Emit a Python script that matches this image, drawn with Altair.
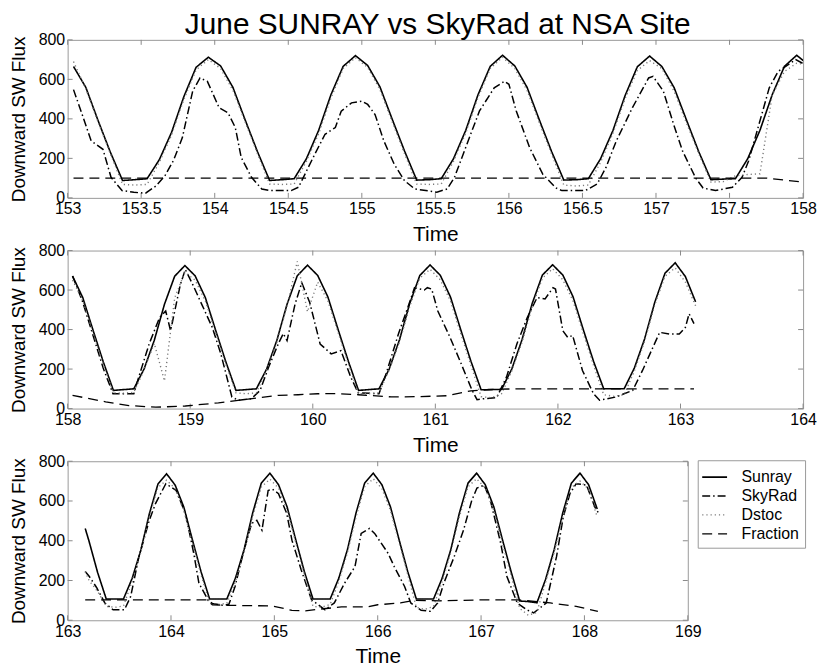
import altair as alt
import pandas as pd

SERIES = ["Sunray", "SkyRad", "Dstoc", "Fraction"]
COLORS = ["#000000", "#000000", "#7a7a7a", "#000000"]
DASHES = [[1, 0], [8, 3, 1.5, 3], [1.2, 3], [10, 6]]
WIDTHS = [1.6, 1.3, 1.3, 1.6]
YTICKS = [0, 200, 400, 600, 800]
XTICKS1 = [153, 153.5, 154, 154.5, 155, 155.5, 156, 156.5, 157, 157.5, 158]
XTICKS2 = [158, 159, 160, 161, 162, 163, 164]
XTICKS3 = [163, 164, 165, 166, 167, 168, 169]

# ---- Panel 1 (2-hourly samples from 153.04) ----
p1_start = 153.04
p1_sunray = [665, 560, 392, 232, 88, 92, 97, 193, 332, 512, 661, 712,
             668, 560, 395, 235, 88, 92, 97, 198, 342, 522, 666, 720,
             670, 562, 398, 238, 90, 92, 97, 198, 342, 522, 666, 722,
             668, 560, 395, 235, 90, 92, 97, 198, 340, 518, 664, 718,
             665, 558, 395, 235, 92, 95, 97, 198, 342, 522, 666, 722,
             672]
p1_dstoc = [690, 552, 385, 225, 68, 65, 68, 180, 318, 498, 648, 700,
            655, 545, 385, 225, 70, 68, 70, 185, 325, 505, 655, 710,
            660, 548, 385, 225, 70, 68, 70, 185, 328, 508, 655, 712,
            655, 545, 380, 222, 65, 60, 65, 180, 325, 502, 645, 695,
            655, 540, 380, 225, 80, 82, 112, 118, 122, 520, 640, 682,
            672]
p1_skyrad = [(153.04, 548), (153.10, 420), (153.16, 288), (153.24, 246), (153.295, 104),
             (153.37, 37), (153.45, 28), (153.53, 24), (153.6, 60), (153.66, 110),
             (153.72, 190), (153.78, 305), (153.81, 406), (153.85, 540), (153.9, 607),
             (153.95, 590), (154.03, 456), (154.09, 431), (154.14, 356), (154.18, 205),
             (154.25, 104), (154.32, 45), (154.38, 37), (154.52, 37), (154.57, 54),
             (154.68, 221), (154.75, 322), (154.82, 356), (154.86, 439), (154.93, 481),
             (155.0, 490), (155.04, 473), (155.09, 422), (155.15, 288), (155.22, 171),
             (155.29, 87), (155.36, 45), (155.51, 29), (155.58, 45), (155.63, 104),
             (155.74, 322), (155.8, 440), (155.9, 557), (155.97, 590), (156.0, 575),
             (156.05, 440), (156.14, 256), (156.23, 120), (156.32, 50), (156.36, 37),
             (156.52, 37), (156.6, 70), (156.66, 154), (156.73, 288), (156.84, 457),
             (156.95, 607), (156.98, 615), (157.05, 540), (157.12, 372), (157.18, 238),
             (157.27, 100), (157.32, 50), (157.405, 37), (157.52, 54), (157.585, 104),
             (157.63, 188), (157.7, 372), (157.77, 557), (157.83, 640), (157.95, 700),
             (158.0, 680)]
p1_fraction = [(153.04, 100), (157.75, 100), (158.0, 80)]

# ---- Panel 2 (2-hourly samples from 158.04) ----
p2_start = 158.04
p2_sunray = [671, 562, 398, 238, 92, 96, 100, 200, 345, 528, 670, 724,
             672, 562, 398, 238, 92, 96, 100, 200, 345, 528, 672, 726,
             674, 565, 400, 240, 92, 96, 100, 200, 347, 530, 674, 727,
             675, 565, 400, 240, 95, 96, 97, 200, 348, 532, 676, 728,
             676, 566, 400, 240, 100, 100, 100, 205, 352, 538, 685, 738,
             668, 540]
p2_dstoc = [650, 548, 385, 225, 80, 78, 82, 195, 330, 140, 560, 690,
            650, 545, 385, 225, 80, 75, 80, 195, 335, 520, 745, 490,
            640, 545, 385, 225, 75, 75, 80, 195, 335, 515, 660, 705,
            652, 545, 380, 220, 60, 55, 75, 190, 335, 515, 660, 708,
            652, 545, 380, 220, 70, 62, 70, 190, 340, 525, 670, 712,
            640, 520]
p2_skyrad = [(158.04, 671), (158.12, 545), (158.2, 385), (158.29, 205), (158.37, 75),
             (158.54, 75), (158.58, 159), (158.665, 327), (158.75, 461), (158.8, 494),
             (158.84, 394), (158.92, 629), (158.96, 704), (159.02, 629), (159.1, 520),
             (159.18, 411), (159.25, 277), (159.34, 59), (159.39, 42), (159.5, 50),
             (159.57, 92), (159.64, 210), (159.72, 330), (159.76, 380), (159.79, 344),
             (159.855, 528), (159.91, 637), (159.975, 537), (160.06, 327), (160.15, 277),
             (160.23, 293), (160.31, 159), (160.37, 80), (160.54, 75), (160.6, 180),
             (160.7, 380), (160.78, 520), (160.83, 612), (160.91, 600), (160.935, 612),
             (160.97, 605), (161.02, 494), (161.12, 360), (161.2, 243), (161.3, 92),
             (161.34, 45), (161.395, 50), (161.5, 55), (161.58, 159), (161.665, 327),
             (161.75, 461), (161.83, 562), (161.895, 555), (161.96, 612), (161.98, 605),
             (162.04, 394), (162.08, 360), (162.12, 370), (162.2, 193), (162.29, 75),
             (162.34, 42), (162.475, 59), (162.61, 92), (162.69, 193), (162.83, 386),
             (162.91, 377), (162.99, 377), (163.04, 411), (163.07, 480), (163.11, 430)]
p2_fraction = [(158.04, 67), (158.31, 34), (158.5, 15), (158.72, 7), (158.96, 13),
               (159.23, 29), (159.39, 42), (159.56, 55), (159.72, 67), (159.88, 70),
               (160.04, 75), (160.2, 76), (160.37, 70), (160.64, 59), (160.83, 60),
               (161.1, 65), (161.29, 90), (161.5, 98), (161.7, 100), (163.11, 100)]

# ---- Panel 3 (first sample at 163.17, then 2-hourly from 163.207) ----
p3_first = (163.17, 462, 245)
p3_start = 163.207
p3_sunray = [398, 240, 107, 107, 107, 210, 350, 535, 685, 737,
             680, 570, 405, 245, 107, 107, 107, 212, 355, 540, 690, 740,
             682, 570, 405, 245, 107, 107, 107, 212, 355, 540, 690, 740,
             682, 570, 405, 245, 107, 107, 107, 212, 355, 540, 690, 740,
             682, 570, 405, 245, 97, 94, 88, 205, 355, 540, 690, 740,
             682, 560]
p3_dstoc = [200, 145, 70, 65, 72, 195, 340, 520, 668, 705,
            662, 552, 390, 230, 85, 80, 85, 195, 340, 520, 670, 710,
            665, 552, 390, 230, 70, 65, 80, 195, 340, 520, 672, 712,
            662, 552, 390, 230, 65, 55, 70, 195, 340, 520, 672, 712,
            665, 552, 385, 225, 60, 25, 40, 190, 340, 520, 668, 700,
            660, 520]
p3_skyrad = [(163.17, 245), (163.21, 220), (163.28, 165), (163.36, 87), (163.44, 53),
             (163.55, 53), (163.61, 120), (163.69, 320), (163.79, 503), (163.85, 587),
             (163.95, 687), (164.05, 653), (164.14, 537), (164.22, 337), (164.27, 187),
             (164.36, 100), (164.4, 85), (164.5, 75), (164.56, 80), (164.62, 170),
             (164.69, 320), (164.78, 487), (164.83, 503), (164.88, 453), (164.94, 653),
             (164.98, 660), (165.04, 637), (165.12, 537), (165.17, 403), (165.26, 253),
             (165.36, 103), (165.49, 53), (165.58, 87), (165.68, 187), (165.78, 270),
             (165.84, 437), (165.92, 462), (165.97, 437), (166.1, 337), (166.16, 270),
             (166.26, 170), (166.32, 87), (166.42, 50), (166.51, 45), (166.58, 87),
             (166.64, 187), (166.74, 320), (166.83, 453), (166.91, 603), (166.96, 665),
             (167.03, 680), (167.09, 603), (167.19, 387), (167.25, 220), (167.35, 87),
             (167.44, 53), (167.51, 37), (167.57, 62), (167.63, 87), (167.73, 320),
             (167.795, 520), (167.86, 637), (167.92, 687), (168.02, 680), (168.1, 570),
             (168.14, 537)]
p3_fraction = [(163.17, 103), (164.35, 103), (164.4, 78), (164.55, 75), (164.98, 72),
               (165.17, 50), (165.3, 47), (165.42, 55), (165.65, 67), (165.9, 67),
               (166.0, 78), (166.22, 87), (166.35, 100), (166.6, 98), (167.05, 103),
               (167.35, 103), (167.67, 87), (167.92, 70), (168.13, 45)]


def grid(start, n):
    return [round(start + k / 12.0, 4) for k in range(n)]


def build(times, sun, dst, sky, frac):
    rows = []
    for t, v in zip(times, sun):
        rows.append({"t": t, "v": v, "series": "Sunray"})
    for t, v in sky:
        rows.append({"t": t, "v": v, "series": "SkyRad"})
    for t, v in zip(times, dst):
        rows.append({"t": t, "v": v, "series": "Dstoc"})
    for t, v in frac:
        rows.append({"t": t, "v": v, "series": "Fraction"})
    return pd.DataFrame(rows)


t1 = grid(p1_start, len(p1_sunray))
t2 = grid(p2_start, len(p2_sunray))
t3 = [p3_first[0]] + grid(p3_start, len(p3_sunray))
df1 = build(t1, p1_sunray, p1_dstoc, p1_skyrad, p1_fraction)
df2 = build(t2, p2_sunray, p2_dstoc, p2_skyrad, p2_fraction)
df3 = build(t3, [p3_first[1]] + p3_sunray, [p3_first[2]] + p3_dstoc, p3_skyrad, p3_fraction)

FONT = "Liberation Sans"
TICK_COLOR = "#8a8a8a"


def panel(df, dom, xticks, w, h, show_legend):
    xs = alt.Scale(domain=dom, nice=False, zero=False)
    ys = alt.Scale(domain=[0, 800], nice=False, zero=True)
    xenc = alt.X("t:Q", scale=xs, title="Time", axis=alt.Axis(values=xticks, format="~g"))
    yenc = alt.Y("v:Q", scale=ys, title="Downward SW Flux", axis=alt.Axis(values=YTICKS))
    if show_legend:
        leg = alt.Legend(title=None, orient="none", legendX=w + 10, legendY=-1,
                         symbolType="M-1.25,0H1.25", symbolSize=400, labelFont=FONT,
                         labelFontSize=16, labelColor="black", padding=6,
                         strokeColor="#999999", fillColor="white", rowPadding=0,
                         labelOffset=16, labelLimit=200)
    else:
        leg = None
    lines = alt.Chart(df).mark_line(clip=True, strokeCap="butt").encode(
        x=xenc, y=yenc,
        color=alt.Color("series:N", scale=alt.Scale(domain=SERIES, range=COLORS), legend=leg),
        strokeDash=alt.StrokeDash("series:N", scale=alt.Scale(domain=SERIES, range=DASHES), legend=leg),
        strokeWidth=alt.StrokeWidth("series:N", scale=alt.Scale(domain=SERIES, range=WIDTHS), legend=leg),
    )
    xt = pd.DataFrame({"t": xticks})
    yt = pd.DataFrame({"v": YTICKS})
    top = alt.Chart(xt).mark_rule(color=TICK_COLOR).encode(x=xenc, y=alt.value(0), y2=alt.value(5))
    bot = alt.Chart(xt).mark_rule(color=TICK_COLOR).encode(x=xenc, y=alt.value(h), y2=alt.value(h - 5))
    lft = alt.Chart(yt).mark_rule(color=TICK_COLOR).encode(y=yenc, x=alt.value(0), x2=alt.value(5))
    rgt = alt.Chart(yt).mark_rule(color=TICK_COLOR).encode(y=yenc, x=alt.value(w), x2=alt.value(w - 5))
    return alt.layer(top, bot, lft, rgt, lines).properties(width=w, height=h)


c1 = panel(df1, [153, 158], XTICKS1, 740, 159, False)
c2 = panel(df2, [158, 164], XTICKS2, 740, 159, False)
c3 = panel(df3, [163, 169], XTICKS3, 624, 160, True)

chart = alt.vconcat(c1, c2, c3, spacing=-4).resolve_scale(
    color="independent", strokeDash="independent", strokeWidth="independent"
).resolve_legend(
    color="independent", strokeDash="independent", strokeWidth="independent"
).properties(
    background="white",
    padding=0,
    title=alt.TitleParams("June SUNRAY vs SkyRad at NSA Site", font=FONT, fontSize=30,
                          fontWeight="normal", color="black", anchor="middle", offset=-9, dx=25)
).configure_view(
    stroke="#999999", strokeWidth=1
).configure_axis(
    labelFont=FONT, labelFontSize=16, labelColor="black", titleFont=FONT,
    titleFontWeight="normal", titleColor="black", ticks=False, domain=False,
    grid=False, labelFlush=False, labelOverlap=False, labelPadding=3
).configure_axisX(
    titleFontSize=21, titleY=43, titleBaseline="alphabetic"
).configure_axisY(
    titleFontSize=19, titlePadding=10
)

chart.save("out.html", embed_options={"renderer": "svg", "actions": False})
